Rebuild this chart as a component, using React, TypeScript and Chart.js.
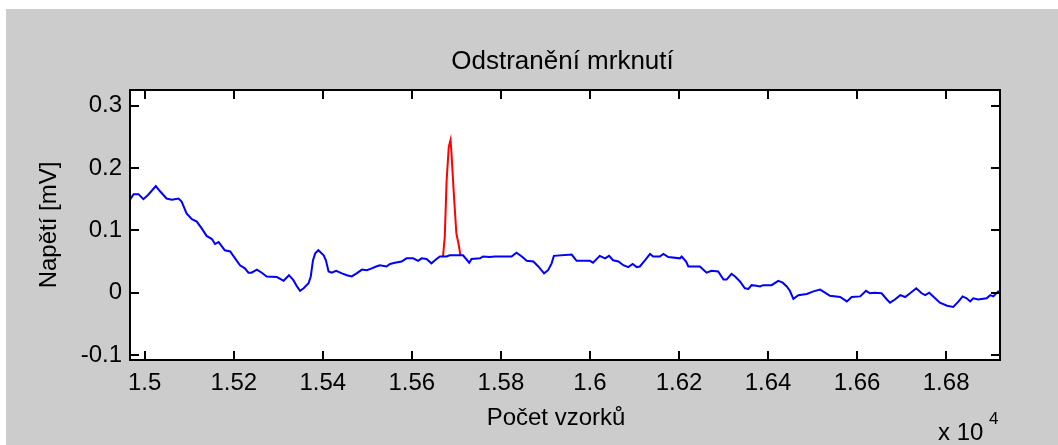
import React, { useEffect, useRef } from "react";
import { Chart, registerables } from "chart.js";

Chart.register(...registerables);

// ---- data ----
const blueX = [14967,14975,14986,14997,15008,15025,15034,15049,15061,15076,
15083,15094,15106,15117,15128,15139,15151,15158,15166,15180,
15192,15203,15214,15225,15233,15240,15252,15263,15274,15297,
15312,15324,15334,15342,15349,15357,15368,15373,15378,15383,
15390,15402,15407,15413,15420,15430,15443,15454,15465,15476,
15488,15499,15510,15520,15528,15543,15551,15562,15577,15588,
15603,15614,15622,15633,15644,15652,15663,15678,15685,15715,
15729,15734,15753,15760,15775,15787,15824,15835,15847,15858,
15873,15884,15897,15906,15914,15919,15959,15970,16000,16007,
16022,16034,16043,16052,16064,16075,16086,16096,16105,16112,
16124,16135,16142,16157,16165,16176,16202,16206,16216,16221,
16247,16253,16262,16273,16288,16300,16307,16318,16326,16337,
16348,16356,16363,16374,16382,16389,16408,16423,16433,16442,
16449,16457,16468,16487,16502,16517,16528,16539,16562,16577,
16588,16607,16620,16629,16640,16655,16667,16674,16685,16697,
16708,16719,16733,16745,16753,16762,16771,16786,16802,16816,
16828,16837,16846,16854,16861,16872,16891,16899,16906,16917,
16921];

const blueY = [0.149,0.158,0.158,0.150,0.157,0.171,0.163,0.151,0.149,0.151,
0.146,0.127,0.118,0.114,0.103,0.091,0.086,0.078,0.081,0.068,
0.066,0.055,0.044,0.039,0.032,0.032,0.037,0.032,0.026,0.025,
0.019,0.028,0.020,0.010,0.003,0.007,0.015,0.026,0.052,0.063,
0.068,0.060,0.052,0.034,0.032,0.035,0.031,0.028,0.026,0.031,
0.037,0.036,0.039,0.042,0.044,0.042,0.046,0.048,0.050,0.055,
0.055,0.051,0.055,0.054,0.047,0.052,0.058,0.058,0.060,0.060,
0.048,0.054,0.055,0.058,0.057,0.058,0.058,0.064,0.058,0.051,
0.050,0.042,0.031,0.036,0.047,0.059,0.061,0.051,0.051,0.048,
0.059,0.055,0.059,0.052,0.050,0.044,0.041,0.046,0.041,0.042,
0.052,0.062,0.058,0.058,0.062,0.057,0.055,0.058,0.050,0.042,
0.042,0.038,0.032,0.035,0.034,0.021,0.021,0.030,0.026,0.018,
0.007,0.006,0.012,0.011,0.010,0.012,0.012,0.019,0.016,0.010,
0.003,-0.010,-0.004,-0.002,0.002,0.005,0.000,-0.005,-0.007,-0.014,
-0.007,-0.006,0.003,-0.001,0.000,-0.001,-0.011,-0.016,-0.011,-0.004,
-0.007,-0.001,0.007,-0.001,-0.004,0.000,-0.006,-0.016,-0.021,-0.023,
-0.014,-0.006,-0.009,-0.014,-0.009,-0.011,-0.009,-0.004,-0.006,0.002,
0.002];

const redX = [15670,15674,15678,15683,15687,15689,15694,15700,15706,15709];
const redY = [0.058,0.090,0.178,0.234,0.245,0.224,0.162,0.095,0.074,0.060];

const xTickValues = [15000,15200,15400,15600,15800,16000,16200,16400,16600,16800];
const xTickLabels = ["1.5","1.52","1.54","1.56","1.58","1.6","1.62","1.64","1.66","1.68"];
const yTickValues = [-0.1,0,0.1,0.2,0.3];
const yTickLabels = ["-0.1","0","0.1","0.2","0.3"];

const titleText = "Odstranění mrknutí";
const xLabelText = "Počet vzorků";
const yLabelText = "Napětí [mV]";
const xMin = 14967, xMax = 16921;
const yMin = -0.108, yMax = 0.325;

const FONT = "'Liberation Sans', Arial, sans-serif";
const TICK = 9;

const framePlugin = {
  id: "matlabFrame",
  beforeDraw(chart: any) {
    const { ctx, chartArea: a } = chart;
    ctx.save();
    ctx.fillStyle = "#ffffff";
    ctx.fillRect(a.left, a.top, a.right - a.left, a.bottom - a.top);
    ctx.restore();
  },
  afterDraw(chart: any) {
    const { ctx, chartArea: a, scales } = chart;
    ctx.save();
    ctx.strokeStyle = "#000";
    ctx.lineWidth = 2;
    ctx.strokeRect(a.left, a.top, a.right - a.left, a.bottom - a.top);
    ctx.beginPath();
    for (const v of xTickValues) {
      const px = Math.round(scales.x.getPixelForValue(v));
      ctx.moveTo(px, a.bottom);
      ctx.lineTo(px, a.bottom - TICK);
      ctx.moveTo(px, a.top);
      ctx.lineTo(px, a.top + TICK);
    }
    for (const v of yTickValues) {
      const py = Math.round(scales.y.getPixelForValue(v));
      ctx.moveTo(a.left, py);
      ctx.lineTo(a.left + TICK, py);
      ctx.moveTo(a.right, py);
      ctx.lineTo(a.right - TICK, py);
    }
    ctx.stroke();

    ctx.fillStyle = "#000";
    ctx.textBaseline = "alphabetic";
    // title
    ctx.font = `26px ${FONT}`;
    ctx.textAlign = "center";
    ctx.fillText(titleText, 556.5, 60);
    // x label
    ctx.font = `24px ${FONT}`;
    ctx.fillText(xLabelText, 550, 416);
    // y label
    ctx.save();
    ctx.translate(50, 216);
    ctx.rotate(-Math.PI / 2);
    ctx.fillText(yLabelText, 0, 0);
    ctx.restore();
    // exponent
    ctx.textAlign = "left";
    ctx.font = `24px ${FONT}`;
    ctx.fillText("x 10", 932, 431);
    ctx.font = `17px ${FONT}`;
    ctx.fillText("4", 983, 415);
    ctx.restore();
  },
};

export default function App() {
  const ref = useRef<HTMLCanvasElement | null>(null);
  useEffect(() => {
    if (!ref.current) return;
    const chart = new Chart(ref.current, {
      type: "line",
      data: {
        datasets: [
          {
            data: blueX.map((x, i) => ({ x, y: blueY[i] })),
            borderColor: "#0000ff",
            borderWidth: 2,
            pointRadius: 0,
            tension: 0,
            fill: false,
          },
          {
            data: redX.map((x, i) => ({ x, y: redY[i] })),
            borderColor: "#ff0000",
            borderWidth: 2,
            pointRadius: 0,
            tension: 0,
            fill: false,
          },
        ],
      },
      options: {
        animation: false,
        responsive: false,
        devicePixelRatio: 1,
        layout: { padding: { left: 0, top: 81, right: 58, bottom: 0 } },
        plugins: { legend: { display: false }, title: { display: false }, tooltip: { enabled: false } },
        scales: {
          x: {
            type: "linear",
            min: xMin,
            max: xMax,
            grid: { display: false, drawTicks: false },
            border: { display: false },
            afterBuildTicks: (s: any) => { s.ticks = xTickValues.map((v) => ({ value: v })); },
            afterFit: (s: any) => { s.height = 85; },
            ticks: {
              padding: 9,
              color: "#000",
              font: { family: FONT, size: 24 },
              maxRotation: 0,
              autoSkip: false,
              callback: (v: any) => { const i = xTickValues.indexOf(v); return i >= 0 ? xTickLabels[i] : ""; },
            },
          },
          y: {
            type: "linear",
            min: yMin,
            max: yMax,
            grid: { display: false, drawTicks: false },
            border: { display: false },
            afterBuildTicks: (s: any) => { s.ticks = yTickValues.map((v) => ({ value: v })); },
            afterFit: (s: any) => { s.width = 124; },
            ticks: {
              padding: 8,
              color: "#000",
              font: { family: FONT, size: 24 },
              autoSkip: false,
              callback: (v: any) => { const i = yTickValues.findIndex((t) => Math.abs(t - v) < 1e-9); return i >= 0 ? yTickLabels[i] : ""; },
            },
          },
        },
      },
      plugins: [framePlugin],
    });
    return () => chart.destroy();
  }, []);
  return (
    <div style={{ position: "fixed", left: 6, top: 9, width: 1052, height: 436, background: "#cccccc" }}>
      <canvas ref={ref} width={1052} height={436} style={{ width: 1052, height: 436, display: "block" }} />
    </div>
  );
}
